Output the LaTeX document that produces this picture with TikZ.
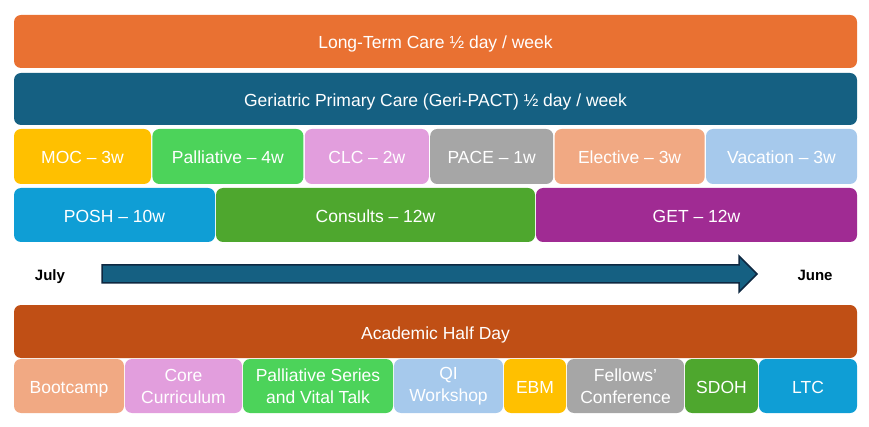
\documentclass[tikz,border=0pt]{standalone}
\usepackage{fontspec}
\setmainfont{Liberation Sans}
\usetikzlibrary{positioning}
\definecolor{ltcorange}{HTML}{E97132}
\definecolor{geriblue}{HTML}{156082}
\definecolor{mocyellow}{HTML}{FFC000}
\definecolor{pallgreen}{HTML}{4CD35A}
\definecolor{clcpink}{HTML}{E29EDD}
\definecolor{pacegray}{HTML}{A6A6A6}
\definecolor{electpeach}{HTML}{F1A983}
\definecolor{vacblue}{HTML}{A6C9EC}
\definecolor{poshblue}{HTML}{0F9ED5}
\definecolor{consgreen}{HTML}{4EA72E}
\definecolor{getpurple}{HTML}{A02B93}
\definecolor{ahdrust}{HTML}{C04F15}
\definecolor{arrowedge}{HTML}{0E2841}
\begin{document}
\begin{tikzpicture}[x=1pt,y=-1pt]
    % Define Styles
        \tikzstyle{block} = [rectangle, rounded corners=7pt, inner sep=0pt, outer sep=0pt, text=white, align=center, font=\fontsize{17.5}{22}\selectfont]
        \tikzstyle{oneline} = [text height=15pt, text depth=0pt]
        \tikzstyle{wide} = [block, oneline, minimum width=843pt, minimum height=53pt]
        \tikzstyle{rota} = [block, oneline, minimum height=55pt]
        \tikzstyle{rotb} = [block, minimum height=54pt]
        \tikzstyle{month} = [font=\fontsize{15}{17}\selectfont\bfseries, text height=11pt, text depth=3pt]
        \tikzstyle{timeline} = [draw=arrowedge, fill=geriblue, line width=1.5pt, line join=miter]
        \useasboundingbox (0,0) rectangle (869,427);
    % Place nodes
        \node [wide, fill=ltcorange, anchor=north west] (longterm) at (14,15) {Long-Term Care ½ day / week};
        \node [wide, fill=geriblue, minimum height=52pt, below = 5pt of longterm] (geripact) {Geriatric Primary Care (Geri-PACT) ½ day / week};
    % Rotations
        \node [rota, fill=mocyellow, minimum width=137pt, anchor=north west] (moc) at (14,129) {MOC -- 3w};
        \node [rota, fill=pallgreen, minimum width=151pt, right = 1.4pt of moc] (palliative) {Palliative -- 4w};
        \node [rota, fill=clcpink, minimum width=124pt, right = 1.4pt of palliative] (clc) {CLC -- 2w};
        \node [rota, fill=pacegray, minimum width=123pt, right = 1.4pt of clc] (pace) {PACE -- 1w};
        \node [rota, fill=electpeach, minimum width=150pt, right = 1.4pt of pace] (elective) {Elective -- 3w};
        \node [rota, fill=vacblue, minimum width=151pt, right = 1.4pt of elective] (vacation) {Vacation -- 3w};
        \node [rotb, oneline, fill=poshblue, minimum width=201pt, anchor=north west] (posh) at (14,188) {POSH -- 10w};
        \node [rotb, oneline, fill=consgreen, minimum width=319pt, right = 1pt of posh] (consults) {Consults -- 12w};
        \node [rotb, oneline, fill=getpurple, minimum width=321pt, right = 1pt of consults] (get) {GET -- 12w};
    % Timeline
        \node [month] (july) at (50,277) {July};
        \node [month] (june) at (815,277) {June};
        \draw [timeline] (102,265) -- (739,265) -- (739,256) -- (757,274) -- (739,292) -- (739,283) -- (102,283) -- cycle;
    % Academic half day
        \node [wide, fill=ahdrust, anchor=north west] (academic) at (14,305) {Academic Half Day};
        \node [rotb, oneline, fill=electpeach, minimum width=110pt, anchor=north west] (bootcamp) at (14,359) {Bootcamp};
        \node [rotb, fill=clcpink, minimum width=117pt, right = 1pt of bootcamp] (core) {Core\\Curriculum};
        \node [rotb, fill=pallgreen, minimum width=150pt, right = 1pt of core] (series) {Palliative Series\\and Vital Talk};
        \node [rotb, fill=vacblue, minimum width=109pt, right = 1pt of series] (qi) {QI\\Workshop};
        \node [rotb, oneline, fill=mocyellow, minimum width=62pt, right = 1pt of qi] (ebm) {EBM};
        \node [rotb, fill=pacegray, minimum width=117pt, right = 1pt of ebm] (fellows) {Fellows’\\Conference};
        \node [rotb, oneline, fill=consgreen, minimum width=73pt, right = 1pt of fellows] (sdoh) {SDOH};
        \node [rotb, oneline, fill=poshblue, minimum width=98pt, right = 1pt of sdoh] (ltc) {LTC};
    \end{tikzpicture}
\end{document}
